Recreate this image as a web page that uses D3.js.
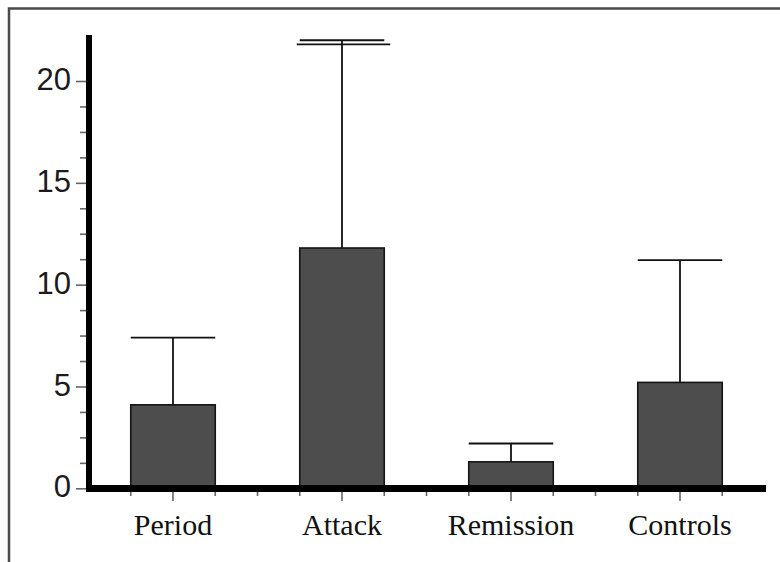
<!DOCTYPE html>
<html>
<head>
<meta charset="utf-8">
<script src="https://cdn.jsdelivr.net/npm/d3@7"></script>
<style>
  html, body { margin: 0; padding: 0; background: #fff; }
  svg { display: block; }
</style>
</head>
<body>
<svg id="chart" width="780" height="562"></svg>
<script>
// Group means with upper error bars
const categories = ["Period", "Attack", "Remission", "Controls"];
const means      = [4.1, 11.8, 1.3, 5.2];
const upperError = [7.4, 22.0, 2.2, 11.2];
// Attack's cap is printed a second time, slightly lower and wider
const secondCaps = [{ category: "Attack", value: 21.8 }];

const yMajorTicks = [0, 5, 10, 15, 20];
const yMinorStep = 1.25;
const yAxisTop = 22.26;

const svg = d3.select("#chart");

// frame around the figure (top and left edges)
svg.append("path")
  .attr("d", "M9,562 L9,8.5 L780,8.5")
  .attr("fill", "none")
  .attr("stroke", "#4a4a4a")
  .attr("stroke-width", 2.5);

const x = d3.scaleBand().domain(categories).range([88.5, 764.5]).padding(0);
const y = d3.scaleLinear().domain([0, 20]).range([488.3, 81]);

const bw = x.bandwidth();
const barW = bw / 2;

// y axis: major ticks with labels
const yAxis = svg.append("g").attr("transform", "translate(89,0)")
  .call(d3.axisLeft(y).tickValues(yMajorTicks).tickSize(13).tickPadding(5).tickFormat(d3.format("d")));
yAxis.select(".domain").remove();
yAxis.selectAll(".tick line").attr("stroke", "#666").attr("stroke-width", 1.6);
yAxis.selectAll(".tick text")
  .attr("dy", "0.28em")
  .attr("fill", "#1b1b1b")
  .style("font-family", "'Liberation Sans', Arial, sans-serif")
  .style("font-size", "31px");

// y axis: minor ticks
const yMinor = d3.range(0, 20 + 1e-9, yMinorStep).filter(v => !yMajorTicks.includes(v));
const yAxisMinor = svg.append("g").attr("transform", "translate(89,0)")
  .call(d3.axisLeft(y).tickValues(yMinor).tickSize(9).tickFormat(""));
yAxisMinor.select(".domain").remove();
yAxisMinor.selectAll(".tick line").attr("stroke", "#666").attr("stroke-width", 1.6);

// x axis: ticks at category centres with labels
const xAxis = svg.append("g").attr("transform", "translate(0,488.5)")
  .call(d3.axisBottom(x).tickSize(12.5).tickSizeOuter(0));
xAxis.select(".domain").remove();
xAxis.selectAll(".tick line").attr("stroke", "#666").attr("stroke-width", 1.6);
xAxis.selectAll(".tick text")
  .attr("y", 46.5)
  .attr("dy", 0)
  .attr("fill", "#111")
  .style("font-family", "'Liberation Serif', 'Times New Roman', serif")
  .style("font-size", "30px");

// x axis: minor ticks at band edges and bar edges
const xMinor = [];
categories.forEach((c, i) => {
  if (i > 0) xMinor.push(x(c));
  xMinor.push(x(c) + bw / 4, x(c) + 3 * bw / 4);
});
svg.append("g").selectAll("line").data(xMinor).join("line")
  .attr("x1", d => d).attr("x2", d => d)
  .attr("y1", 488.5).attr("y2", 496)
  .attr("stroke", "#666").attr("stroke-width", 1.6);

// bars
const data = categories.map((c, i) => ({ c, m: means[i], e: upperError[i] }));
svg.append("g").selectAll("rect").data(data).join("rect")
  .attr("x", d => x(d.c) + bw / 4)
  .attr("y", d => y(d.m))
  .attr("width", barW)
  .attr("height", d => y(0) - y(d.m))
  .attr("fill", "#4d4d4d")
  .attr("stroke", "#151515")
  .attr("stroke-width", 1.6);

// error bars
const eb = svg.append("g");
eb.selectAll("line.stem").data(data).join("line").attr("class", "stem")
  .attr("x1", d => x(d.c) + bw / 2).attr("x2", d => x(d.c) + bw / 2)
  .attr("y1", d => y(d.m)).attr("y2", d => y(d.e))
  .attr("stroke", "#111").attr("stroke-width", 1.8);
eb.selectAll("line.cap").data(data).join("line").attr("class", "cap")
  .attr("x1", d => x(d.c) + bw / 4).attr("x2", d => x(d.c) + 3 * bw / 4)
  .attr("y1", d => y(d.e)).attr("y2", d => y(d.e))
  .attr("stroke", "#111").attr("stroke-width", 1.8);
eb.selectAll("line.cap2").data(secondCaps).join("line").attr("class", "cap2")
  .attr("x1", d => x(d.category) + bw / 4 - 3).attr("x2", d => x(d.category) + 3 * bw / 4 + 6)
  .attr("y1", d => y(d.value)).attr("y2", d => y(d.value))
  .attr("stroke", "#111").attr("stroke-width", 1.8);

// heavy axis lines
svg.append("line")
  .attr("x1", 89).attr("x2", 89)
  .attr("y1", y(yAxisTop)).attr("y2", 492)
  .attr("stroke", "#000").attr("stroke-width", 6);
svg.append("line")
  .attr("x1", 86).attr("x2", 766)
  .attr("y1", 488.5).attr("y2", 488.5)
  .attr("stroke", "#000").attr("stroke-width", 7);
</script>
</body>
</html>
